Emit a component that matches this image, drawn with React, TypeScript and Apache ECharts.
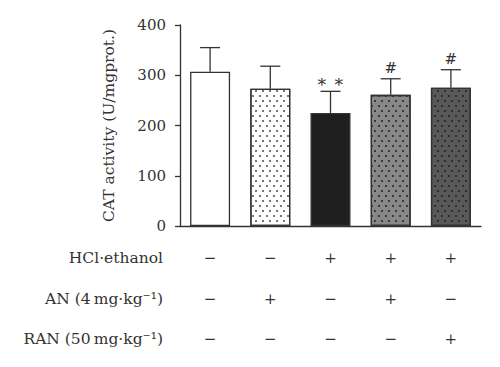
import React, { useEffect, useRef } from "react";
import * as echarts from "echarts";

const groups = ["Control", "AN", "Model", "AN+HCl", "RAN+HCl"];
const means = [307, 273, 225, 261, 275];
const errors = [48, 45, 43, 32, 36];
const marks = ["", "", "∗∗", "#", "#"];
const hclRow = ["−", "−", "+", "+", "+"];
const anRow = ["−", "+", "−", "+", "−"];
const ranRow = ["−", "−", "−", "−", "+"];
const rowLabels = ["HCl·ethanol", "AN (4\u2009mg·kg⁻¹)", "RAN (50\u2009mg·kg⁻¹)"];
const yTicks = { min: 0, max: 400, interval: 100 };

const FONT = "'DejaVu Serif', 'Liberation Serif', serif";
const fills = ["#ffffff", "#ffffff", "#1e1e1e", "#888888", "#595959"];
const dotColors = [null, "#777777", null, "#3a3a3a", "#2e2e2e"];

export default function App() {
  const ref = useRef<HTMLDivElement>(null);
  useEffect(() => {
    if (!ref.current) return;
    const chart = echarts.init(ref.current, undefined, { renderer: "svg" });
    const rowY = [258, 299, 339];
    chart.setOption({
      animation: false,
      grid: { left: 180, top: 25, width: 301, height: 201 },
      xAxis: {
        type: "category",
        data: groups,
        axisLine: { lineStyle: { color: "#333", width: 1.3 } },
        axisTick: { alignWithLabel: true, length: 5, lineStyle: { color: "#333", width: 1.3 } },
        axisLabel: {
          interval: 0,
          margin: 12,
          formatter: (_v: string, i: number) => `${hclRow[i]}\n${anRow[i]}\n${ranRow[i]}`,
          lineHeight: 40.5,
          fontSize: 15,
          fontFamily: FONT,
          color: "#333",
        },
      },
      yAxis: {
        type: "value",
        min: yTicks.min,
        max: yTicks.max,
        interval: yTicks.interval,
        name: "CAT activity (U/mgprot.)",
        nameLocation: "middle",
        nameGap: 63,
        nameTextStyle: { fontSize: 15.5, fontFamily: FONT, color: "#333" },
        axisLine: { show: true, lineStyle: { color: "#333", width: 1.3 } },
        axisTick: { show: true, length: 5, lineStyle: { color: "#333", width: 1.3 } },
        splitLine: { show: false },
        axisLabel: { margin: 14, fontSize: 15, fontFamily: FONT, color: "#333" },
      },
      series: [
        {
          type: "bar",
          barWidth: 40,
          data: means.map((v, i) => ({
            value: v,
            itemStyle: {
              color: fills[i],
              borderColor: "#333",
              borderWidth: 1.3,
              decal: dotColors[i]
                ? {
                    symbol: "rect",
                    symbolSize: 1,
                    color: dotColors[i],
                    dashArrayX: [
                      [1.4, 4.6],
                      [0, 3, 1.4, 1.6],
                    ],
                    dashArrayY: [1.4, 2.8],
                    rotation: 0,
                  }
                : undefined,
            },
          })),
          z: 2,
        },
        {
          type: "custom",
          z: 3,
          data: means.map((v, i) => [i, v, errors[i]]),
          renderItem: (params: any, api: any) => {
            const i = api.value(0);
            const m = api.value(1);
            const e = api.value(2);
            const base = api.coord([i, m]);
            const top = api.coord([i, m + e]);
            const half = 10;
            const children: any[] = [
              {
                type: "line",
                shape: { x1: base[0], y1: base[1], x2: top[0], y2: top[1] },
                style: { stroke: "#333", lineWidth: 1.3 },
              },
              {
                type: "line",
                shape: { x1: top[0] - half, y1: top[1], x2: top[0] + half, y2: top[1] },
                style: { stroke: "#333", lineWidth: 1.3 },
              },
            ];
            const mk = marks[params.dataIndex];
            if (mk) {
              const isStar = mk.indexOf("∗") >= 0;
              children.push({
                type: "text",
                x: top[0],
                y: top[1] - (isStar ? 2 : 3),
                style: {
                  text: isStar ? "∗ ∗" : mk,
                  fill: "#333",
                  font: `${isStar ? 17 : 15}px ${FONT}`,
                  textAlign: "center",
                  textVerticalAlign: "bottom",
                },
              });
            }
            return { type: "group", children };
          },
        },
      ],
      graphic: rowLabels.map((t, k) => ({
        type: "text",
        x: 163,
        y: rowY[k],
        style: {
          text: t,
          fill: "#333",
          font: `15.5px ${FONT}`,
          textAlign: "right",
          textVerticalAlign: "middle",
        },
      })),
    });
    return () => chart.dispose();
  }, []);
  return (
    <div
      ref={ref}
      style={{ position: "fixed", left: 0, top: 0, width: 500, height: 367, background: "#fff" }}
    />
  );
}
